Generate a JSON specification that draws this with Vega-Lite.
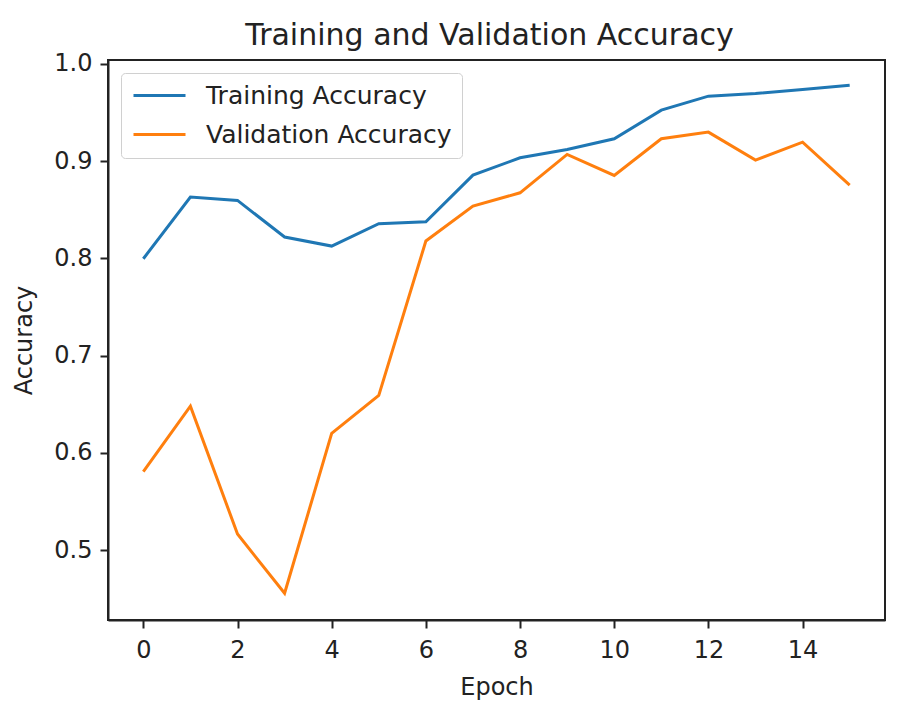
{
  "$schema": "https://vega.github.io/schema/vega-lite/v6.json",
  "autosize": "none",
  "width": 777,
  "height": 560,
  "padding": {"left": 108, "top": 60, "right": 18, "bottom": 92},
  "background": "white",
  "title": {
    "text": "Training and Validation Accuracy",
    "fontSize": 30,
    "font": "DejaVu Sans",
    "fontWeight": "normal",
    "color": "#222",
    "offset": 1,
    "dx": -7
  },
  "data": {
    "values": [
      {"epoch": 0, "series": "Training Accuracy", "acc": 0.7996},
      {"epoch": 1, "series": "Training Accuracy", "acc": 0.863},
      {"epoch": 2, "series": "Training Accuracy", "acc": 0.8596},
      {"epoch": 3, "series": "Training Accuracy", "acc": 0.8219},
      {"epoch": 4, "series": "Training Accuracy", "acc": 0.8126},
      {"epoch": 5, "series": "Training Accuracy", "acc": 0.8356},
      {"epoch": 6, "series": "Training Accuracy", "acc": 0.8376},
      {"epoch": 7, "series": "Training Accuracy", "acc": 0.8856},
      {"epoch": 8, "series": "Training Accuracy", "acc": 0.9034},
      {"epoch": 9, "series": "Training Accuracy", "acc": 0.912},
      {"epoch": 10, "series": "Training Accuracy", "acc": 0.923},
      {"epoch": 11, "series": "Training Accuracy", "acc": 0.9524},
      {"epoch": 12, "series": "Training Accuracy", "acc": 0.9668},
      {"epoch": 13, "series": "Training Accuracy", "acc": 0.9696},
      {"epoch": 14, "series": "Training Accuracy", "acc": 0.9737},
      {"epoch": 15, "series": "Training Accuracy", "acc": 0.978},
      {"epoch": 0, "series": "Validation Accuracy", "acc": 0.5805},
      {"epoch": 1, "series": "Validation Accuracy", "acc": 0.648},
      {"epoch": 2, "series": "Validation Accuracy", "acc": 0.5164},
      {"epoch": 3, "series": "Validation Accuracy", "acc": 0.4555},
      {"epoch": 4, "series": "Validation Accuracy", "acc": 0.62},
      {"epoch": 5, "series": "Validation Accuracy", "acc": 0.659},
      {"epoch": 6, "series": "Validation Accuracy", "acc": 0.8178},
      {"epoch": 7, "series": "Validation Accuracy", "acc": 0.8538},
      {"epoch": 8, "series": "Validation Accuracy", "acc": 0.8674},
      {"epoch": 9, "series": "Validation Accuracy", "acc": 0.9069},
      {"epoch": 10, "series": "Validation Accuracy", "acc": 0.8853},
      {"epoch": 11, "series": "Validation Accuracy", "acc": 0.923},
      {"epoch": 12, "series": "Validation Accuracy", "acc": 0.9298},
      {"epoch": 13, "series": "Validation Accuracy", "acc": 0.901},
      {"epoch": 14, "series": "Validation Accuracy", "acc": 0.9195},
      {"epoch": 15, "series": "Validation Accuracy", "acc": 0.8753}
    ]
  },
  "mark": {"type": "line", "strokeWidth": 3, "clip": true},
  "encoding": {
    "x": {
      "field": "epoch",
      "type": "quantitative",
      "title": "Epoch",
      "scale": {"domain": [-0.75, 15.75], "nice": false, "zero": false},
      "axis": {"values": [0, 2, 4, 6, 8, 10, 12, 14], "format": "d", "labelPadding": 10, "titlePadding": 13}
    },
    "y": {
      "field": "acc",
      "type": "quantitative",
      "title": "Accuracy",
      "scale": {"domain": [0.428, 1.004], "nice": false, "zero": false},
      "axis": {"values": [0.5, 0.6, 0.7, 0.8, 0.9, 1.0], "format": ".1f", "titlePadding": 17}
    },
    "color": {
      "field": "series",
      "type": "nominal",
      "title": null,
      "scale": {
        "domain": ["Training Accuracy", "Validation Accuracy"],
        "range": ["#1f77b4", "#ff7f0e"]
      },
      "legend": {
        "orient": "top-left",
        "offset": 13,
        "symbolType": "M-2.6,0H2.6",
        "symbolSize": 400,
        "symbolStrokeWidth": 3,
        "symbolOffset": 16,
        "labelFontSize": 25,
        "labelFont": "DejaVu Sans",
        "labelColor": "#222",
        "labelLimit": 500,
        "labelOffset": 34,
        "rowPadding": 13,
        "padding": 10,
        "strokeColor": "#d0d0d0",
        "fillColor": "white",
        "cornerRadius": 4
      }
    }
  },
  "config": {
    "view": {"stroke": "#222", "strokeWidth": 2},
    "axis": {
      "grid": false,
      "domainColor": "#222",
      "domainWidth": 2,
      "tickColor": "#222",
      "tickWidth": 2,
      "tickSize": 8,
      "labelFont": "DejaVu Sans",
      "labelFontSize": 24,
      "labelColor": "#222",
      "labelPadding": 8,
      "titleFont": "DejaVu Sans",
      "titleFontSize": 24,
      "titleFontWeight": "normal",
      "titleColor": "#222"
    }
  }
}
